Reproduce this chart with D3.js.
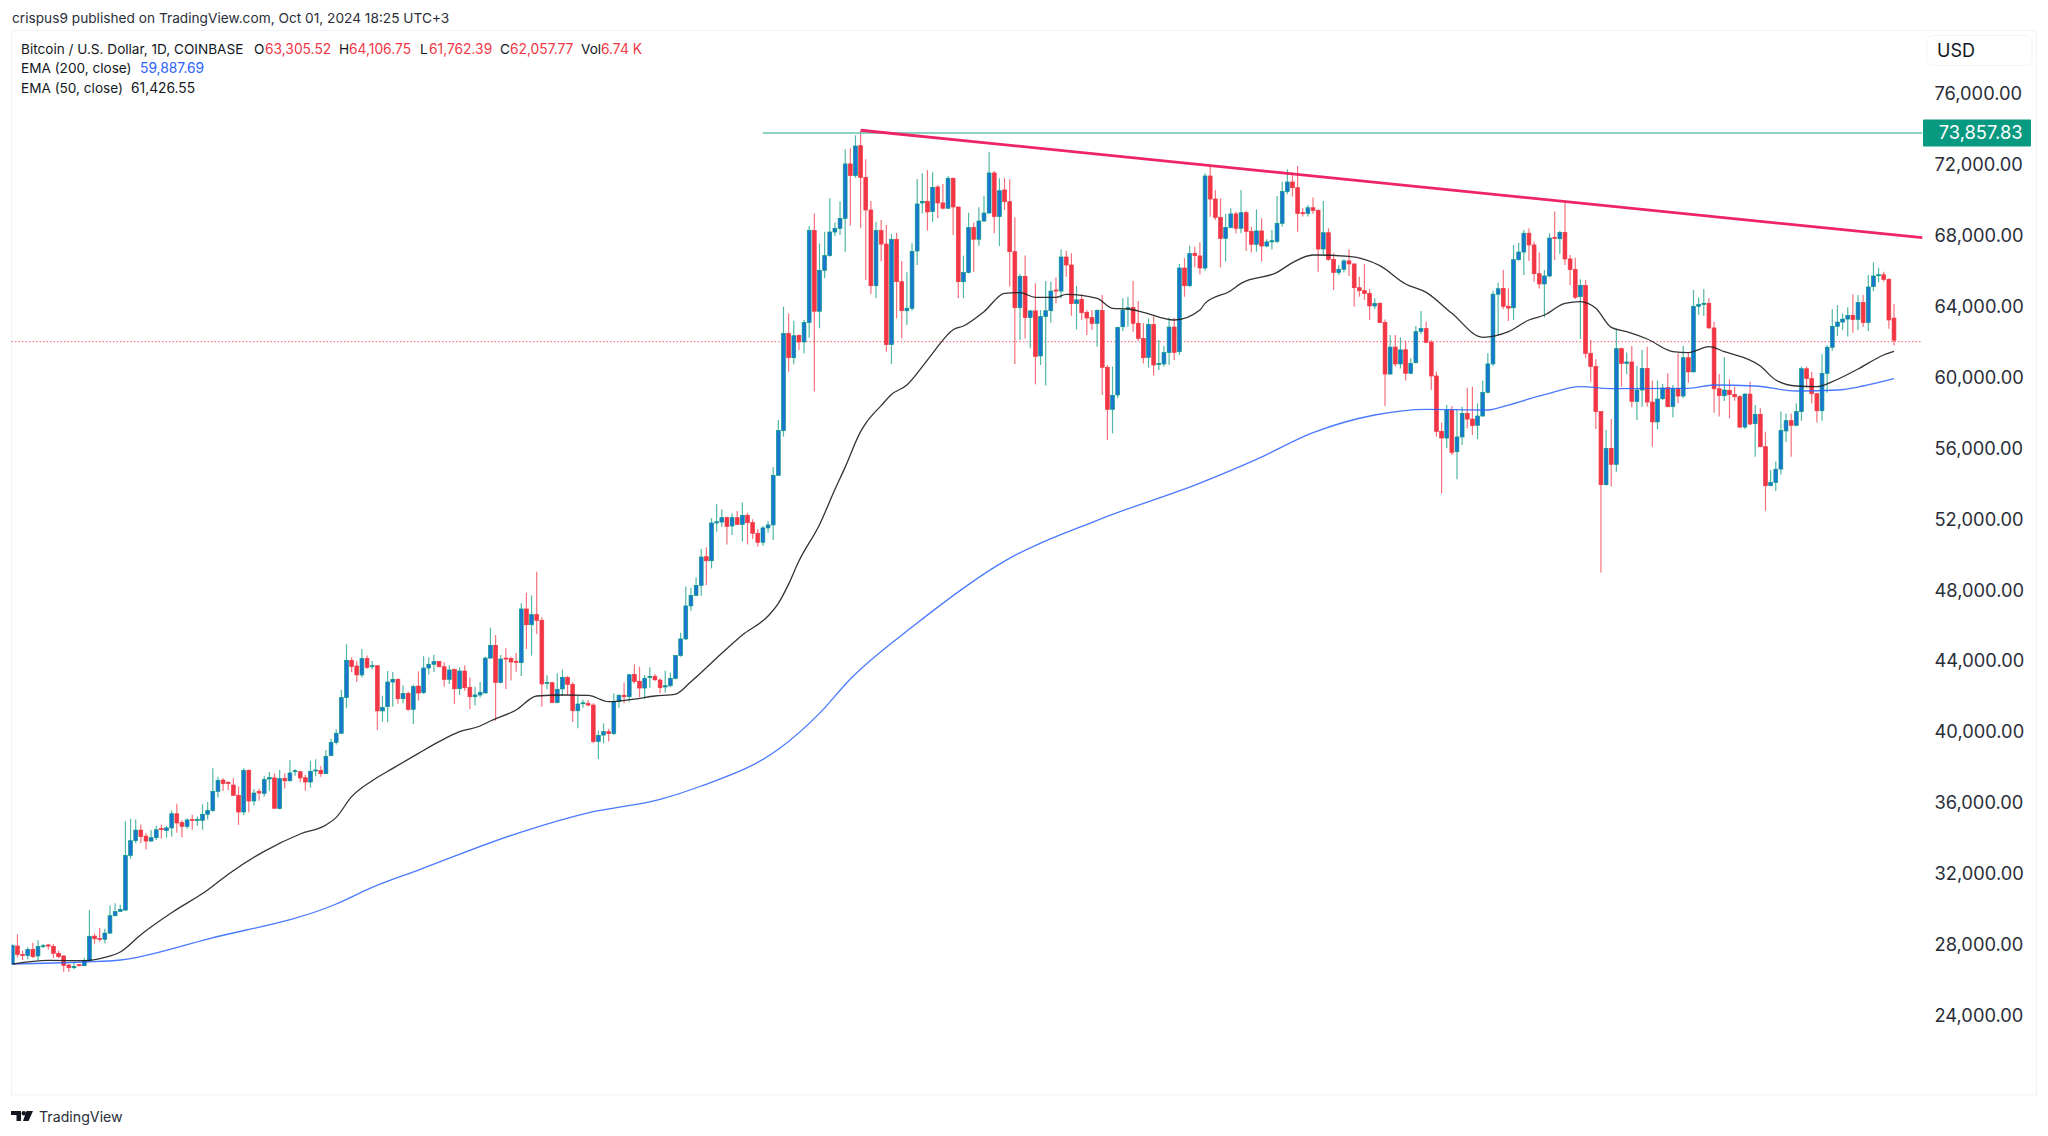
<!DOCTYPE html>
<html>
<head>
<meta charset="utf-8">
<title>Bitcoin / U.S. Dollar</title>
<script src="https://cdn.jsdelivr.net/npm/d3@7"></script>
<style>
  html, body { margin: 0; padding: 0; background: #fff; }
  svg { display: block; }
  text { font-family: Inter, "Noto Sans", sans-serif; }
</style>
</head>
<body>
<div id="chart"></div>
<script>
// daily candles, one value per day starting on Oct 1 2023
const opens = [
26880,27890,27420,27350,27700,27330,27870,27950,27870,27480,
27330,26820,26670,26840,26780,27060,28450,28320,28270,28620,
29600,29850,29920,33000,33830,34430,34090,33810,34000,34510,
34410,34550,35350,34850,34640,35030,34980,34980,35320,35540,
36610,37250,37120,36970,36390,35450,37800,36070,36600,36500,
37310,37370,35640,37350,37210,37720,37720,37380,37140,37760,
37800,37610,38630,39380,39890,41900,44000,43680,43180,44100,
43650,43700,41150,41390,42780,42930,41840,42140,41240,42550,
42180,43570,43780,43930,43640,42930,43480,42400,43400,42480,
41950,42050,42160,44130,44850,42760,44130,44100,43950,43870,
46900,46010,46580,46260,42700,42740,41620,42390,43040,42650,
41160,41560,41560,41480,39430,39790,39980,39870,41690,42030,
41950,43210,42820,42440,43030,43100,42890,42500,42570,42990,
44270,45210,47070,47670,48230,49850,49620,51750,51800,52050,
51580,52050,51670,52180,51770,51170,50660,51470,51640,54440,
56960,62430,61070,62330,61960,63050,68250,63690,66000,66830,
68160,68370,68930,72000,71340,73030,71240,69400,65130,68240,
67480,61810,67750,65360,63720,63860,67090,69800,69890,69310,
70700,69800,69500,71190,69570,65360,65870,68410,67750,68780,
69230,71490,69030,70530,69870,67050,63890,65660,63330,63710,
61170,63390,63720,64890,64830,66750,66300,64120,64360,63630,
63330,63010,63740,60530,58160,58970,62820,63800,63910,63010,
62160,61090,62950,60680,60720,61360,62800,61410,66130,65130,
66960,66810,66130,71320,70020,68990,67800,68420,69180,68370,
69250,68200,67470,68220,67370,67600,67630,68650,70440,70980,
70660,69250,69210,69530,69380,67200,68120,66620,65870,66060,
66530,66360,65020,64850,64700,63990,64140,63050,60150,61670,
60720,61520,60190,60790,62560,62710,61940,60040,56920,56540,
58120,55770,56600,57930,57610,57260,57780,59120,60720,64650,
64980,63970,63890,66600,67030,68090,67430,65810,65230,65680,
67860,67780,68140,66640,66040,64510,65150,61320,60570,58030,
53910,55960,55060,61580,60750,60830,58610,59250,60470,58570,
57450,58760,59380,58310,59340,58910,61070,60270,63970,64080,
64140,62750,59320,58930,59230,59000,58870,57160,59020,57350,
57880,56050,53850,54040,54790,56940,57520,57260,58030,60450,
59890,59040,58080,60190,61660,62840,63080,63250,63460,63230,
64180,63050,65080,65720,65750,65490,63305.52];

const highs = [
27990,28550,27630,27820,28080,28210,28000,28020,28000,27630,
27380,26860,27010,26880,27230,29920,28590,28910,28870,30170,
30300,30220,34920,35070,35030,34750,34250,34430,34680,34750,
34660,35540,35920,35000,35090,35300,35190,35880,36010,37910,
37440,37350,37180,37350,36880,37910,37850,36750,36760,37480,
37700,37630,37820,37630,38380,37870,37760,37540,38340,38420,
38040,38950,39580,40110,42330,44910,44170,43970,44640,44280,
43970,43720,42010,43400,43340,42990,42590,42240,42630,43380,
44230,44170,44320,43960,43890,43720,43550,43610,43720,43030,
42520,42780,44210,45850,45430,44300,44680,44210,44420,47220,
47820,47670,49000,46430,43160,42800,43270,43480,43120,42760,
41990,41780,41770,41580,40040,40450,40150,42140,42100,42740,
43230,43780,43640,43170,43610,43230,42990,43420,43310,44300,
45560,48160,48100,48670,50280,50380,52030,52800,52520,52110,
52290,52430,52900,52330,51960,51410,51580,51860,54910,57560,
63950,63570,63160,62400,63200,68500,69210,67520,68180,70060,
68690,69890,72820,72880,73610,73858,72260,69910,68740,68840,
68560,68050,68120,66530,65890,67520,71150,71470,71660,71530,
70810,70870,71320,71230,69590,66830,69250,68690,69550,70190,
72670,71600,71190,71190,71130,68990,65790,66830,63760,65270,
63760,65400,65360,65590,67180,67110,66960,65130,64650,63760,
63760,63800,64610,60660,60570,62820,64420,64510,65400,64270,
63010,63290,63390,62070,61730,63330,63330,66360,66680,67390,
67330,67580,71470,71850,70530,70060,69180,69500,69310,70530,
69360,68460,69440,68930,67750,68270,70190,71000,71700,71530,
71880,69500,69680,70100,69440,69910,68370,66960,66300,66620,
67180,66390,65640,66360,64950,64420,64180,63230,62350,62350,
62220,62030,61040,62860,63710,63100,62070,60280,57410,58400,
58350,58120,58310,59380,59440,58500,59780,61320,64850,65300,
66020,64980,67430,67560,68270,68370,67620,67010,66020,68090,
69310,68220,69830,66860,66710,65490,65450,62070,60980,58050,
56990,57610,62630,61640,61370,61730,60600,61510,61690,59780,
59780,59590,60190,59530,61320,61750,61370,64890,64460,64950,
64420,63100,60150,61090,59850,59440,58970,59060,59720,58400,
58220,56900,54740,55210,58030,57930,57930,58500,60570,60570,
60280,59060,61260,61790,63800,64040,63570,63910,64650,64610,
64610,65740,66450,66150,65920,65550,64106.75];

const lows = [
26860,27250,27100,27140,27210,27100,27780,27700,27210,27210,
26440,26440,26580,26730,26760,27010,28020,28130,28040,28570,
29550,29810,29870,32820,33680,33680,33340,33780,33870,33960,
34000,34060,34280,34020,34510,34450,34680,34450,35030,35470,
36260,36630,36690,36350,34720,35280,35430,35810,36090,36310,
36650,35640,35600,36780,37180,37500,37140,36650,36820,37460,
37440,37590,38590,39260,39850,41300,43330,42780,43030,43510,
43490,40070,40540,40510,41390,41560,41580,41160,40410,41730,
42100,43210,43340,43610,42520,42670,41540,42050,42290,41260,
41450,41900,42140,44100,40600,42700,42390,42860,43360,43120,
44640,44270,45490,41390,42370,41580,41580,41990,42050,40520,
40170,41330,41410,39320,38440,39320,39420,39790,41330,41580,
41670,42700,41920,41840,42460,42820,42140,42180,42500,42930,
44210,45150,46800,47630,47650,48250,49190,51260,51540,50540,
51070,51640,50700,50540,50850,50410,50470,51200,50790,54400,
56620,60280,60700,61510,61320,62200,59160,62730,65550,66770,
67930,67990,67050,68520,71220,68370,65450,64660,64420,66490,
61410,60720,63290,62160,62920,63720,66300,69210,68240,68740,
68930,69440,69460,67990,64420,64420,65830,65920,67390,68740,
69210,68090,67370,69400,65080,60720,62070,62160,61600,59570,
60660,59510,63050,64140,64420,65640,63440,62670,63200,62350,
62630,61690,58970,56430,56810,58780,62580,62820,62540,62010,
60750,60510,60060,60380,60570,60660,60940,61220,64510,65060,
66170,65770,65980,69030,68840,66170,66490,68370,68090,68090,
67090,67000,67050,66490,67300,67180,67520,68460,70290,70150,
68180,69030,69030,69180,65920,66860,66540,64890,65740,65870,
65680,63950,64510,64330,63200,63820,63010,58350,60100,60570,
60470,59780,60150,60750,62390,61880,59250,56620,53420,55960,
55580,54210,56150,57090,56710,56470,57750,59060,60600,62350,
63800,63140,63200,66540,65740,66530,65360,64980,63350,65600,
66580,66920,66300,65170,64380,62130,61040,59720,57050,48960,
53870,53800,54640,59440,60150,58270,57560,58310,58310,56050,
57030,58690,58270,57710,58500,58780,59660,60230,63500,63420,
62710,57970,57750,58630,57650,58650,57090,57050,57280,55490,
56020,52440,53830,53550,54490,56320,55490,57200,57520,59400,
58500,57410,57520,59100,61470,62300,62630,62260,62480,62630,
62820,62580,64830,65320,65360,62710,61762.39];

const closes = [
27910,27420,27350,27700,27290,27870,27910,27890,27480,27290,
26800,26670,26740,26780,27060,28440,28300,28270,28620,29600,
29830,29960,33000,33830,34430,34060,33810,34000,34450,34450,
34550,35350,34830,34640,35000,34980,35030,35320,35540,36610,
37230,37050,37050,36390,35450,37800,36070,36520,36520,37290,
37390,35660,37330,37210,37650,37780,37370,37140,37740,37820,
37610,38590,39380,39890,41900,44000,43660,43180,44100,43610,
43700,41150,41350,42780,42930,41840,42140,41240,42520,42160,
43570,43780,43930,43640,42930,43460,42400,43400,42460,41950,
42050,42200,44130,44850,42760,44080,44080,43910,43890,46900,
46010,46580,46260,42670,42760,41620,42370,43040,42650,41160,
41540,41610,41480,39420,39770,39980,39870,41690,42030,41950,
43190,42820,42440,42990,43100,42910,42460,42570,42990,44270,
45210,47070,47670,48230,49830,49620,51750,51820,52050,51560,
52050,51670,52180,51770,51170,50660,51470,51640,54440,56960,
62430,61070,62310,61960,63050,68250,63690,66000,66830,68160,
68370,68930,72000,71340,73010,71240,69400,65130,68240,67480,
61810,67750,65360,63720,63860,67070,69740,69890,69290,70680,
69800,69500,71190,69570,65360,65870,68410,67750,68780,69230,
71490,69030,70490,69870,67050,63890,65660,63330,63710,61150,
63390,63720,64830,64830,66750,66300,64120,64330,63610,63310,
63010,63740,60530,58160,58950,62780,63760,63890,63010,62160,
61070,62950,60660,60750,61360,62800,61370,66130,65130,66940,
66830,66130,71320,70020,68990,67800,68420,69180,68370,69250,
68200,67470,68220,67370,67600,67670,68650,70440,70980,70660,
69210,69190,69530,69380,67200,68120,66620,65870,66060,66530,
66360,65020,64850,64700,63990,64140,63050,60150,61670,60720,
61510,60190,60750,62540,62710,61940,60040,56920,56540,58120,
55730,56600,57930,57610,57240,57780,59120,60720,64650,64960,
63970,63870,66600,67030,68090,67430,65810,65230,65680,67820,
67800,68140,66640,66040,64480,65150,61320,60570,58030,53910,
55960,55060,61580,60750,60830,58610,59250,60470,58570,57450,
58740,59360,58310,59340,58910,61070,60270,63970,64080,64140,
62750,59320,58930,59250,58990,58870,57160,59020,57330,57880,
56050,53850,54040,54780,56960,57520,57260,58030,60450,59890,
59040,58080,60190,61660,62840,63080,63250,63460,63230,64180,
63050,65060,65680,65750,65490,63200,62057.77];

// moving averages at the day numbers beside them
const ema50Days = [0,7,14,18,21,25,31,38,42,49,56,61,63,66,70,74,79,83,87,91,93,98,102,107,112,116,121,125,129,132,138,142,147,149,151,153,157,160,162,165,166,169,171,174,177,179,183,185,189,193,196,199,203,205,211,214,217,220,226,231,232,237,239,246,249,253,260,266,271,275,280,286,291,295,298,302,305,308,311,314,318,323,326,330,333,340,343,347,351,354,359,364,366];
const ema50Values = [26875,27082,27063,27251,27552,28530,29771,31049,31933,33230,34208,34715,35147,36313,37215,37911,38757,39415,39979,40299,40581,41201,41991,42047,42028,41671,41821,41991,42103,42799,44397,45431,46503,47217,48300,49600,51650,53640,54900,56900,57370,58370,59000,59531,60565,61317,62650,62858,63667,64701,64739,64475,64475,64645,64419,63855,63817,63629,63197,63761,64137,64851,65265,65885,66431,66863,66788,66261,65227,64757,63573,62219,62539,63197,63479,64137,64231,63855,62783,62539,62125,61411,61355,61693,61411,60603,59813,59475,59437,59719,60433,61223,61426.55];
const ema200Days = [0,14,21,38,63,70,79,99,112,126,134,149,157,163,175,193,211,231,242,253,265,275,287,291,298,305,311,326,331,339,347,355,360,366];
const ema200Values = [26875,26988,27101,28286,30259,31199,32177,34320,35400,36163,36915,38983,41013,42950,45880,49600,51900,54000,55338,56842,57839,58158,58121,58403,58985,59437,59324,59343,59531,59475,59192,59249,59475,59887.69];

// drawn lines: the resistance line and the all time high line
const trendDays = [165, 371.5];
const trendPrices = [73900, 67840];
const highLineDays = [146, 371.5];
const highLinePrice = 73857.83;
const lastPrice = 62057.77;
// where those two horizontal lines sit when read against the candles
const highLineLevel = 73745;
const lastLineLevel = 61975;

// axis labels
const priceTicks = [24000,28000,32000,36000,40000,44000,48000,52000,56000,60000,64000,68000,72000,76000];
const monthDays = [0,31,61,92,123,152,183,213,244,274,305,336,366];
const monthLabels = ["Oct","Nov","Dec","2024","Feb","Mar","Apr","May","Jun","Jul","Aug","Sep","Oct"];

const upColor = "#089981";
const upFill = "#1976d2";
const downColor = "#f23645";

const svg = d3.select("#chart").append("svg")
    .attr("width", 2048)
    .attr("height", 1136);

// day number and price scales
const x = d3.scaleLinear().domain([0, 366]).range([12.3, 1894]);
const y = d3.scaleLinear().domain([24000, 76000]).range([1015, 93]);

// the frame around chart and axes
svg.append("rect")
    .attr("x", 11.5).attr("y", 30.5)
    .attr("width", 2025).attr("height", 1064.5)
    .attr("fill", "none")
    .attr("stroke", "#f0f3fa");

svg.append("clipPath").attr("id", "frame")
    .append("rect")
    .attr("x", 11.5).attr("y", 30.5)
    .attr("width", 2025).attr("height", 1064.5);

// price axis on the right
const yAxis = svg.append("g")
    .attr("transform", "translate(1922,0.7)")
    .call(d3.axisRight(y).tickValues(priceTicks).tickFormat(d3.format(",.2f")).tickSize(0).tickPadding(12.5));
yAxis.select(".domain").remove();
yAxis.selectAll("text")
    .style("font-size", "18.3px")
    .style("fill", "#2a2e39");

// month axis at the bottom, the first label gets cut by the frame
const xAxis = svg.append("g")
    .attr("transform", "translate(0,1062)")
    .attr("clip-path", "url(#frame)")
    .call(d3.axisBottom(x).tickValues(monthDays).tickFormat((d, i) => monthLabels[i]).tickSize(0).tickPadding(3));
xAxis.select(".domain").remove();
xAxis.selectAll("text")
    .style("font-size", "17.5px")
    .style("fill", "#2a2e39")
    .style("font-weight", (d, i) => monthLabels[i] === "2024" ? 700 : 400);

// dotted line at the last close
svg.append("line")
    .attr("x1", 11.5).attr("x2", 1922)
    .attr("y1", y(lastLineLevel)).attr("y2", y(lastLineLevel))
    .attr("stroke", downColor)
    .attr("stroke-width", 1)
    .attr("stroke-dasharray", "1.5 2")
    .attr("opacity", 0.8);

// one entry per day
const days = d3.range(opens.length);
const candles = svg.append("g").attr("clip-path", "url(#frame)");

candles.selectAll("line.wick").data(days).join("line")
    .attr("class", "wick")
    .attr("x1", d => x(d)).attr("x2", d => x(d))
    .attr("y1", d => y(highs[d])).attr("y2", d => y(lows[d]))
    .attr("stroke", d => closes[d] >= opens[d] ? upColor : downColor)
    .attr("stroke-width", 1.2)
    .attr("opacity", 0.7);

candles.selectAll("rect.body").data(days).join("rect")
    .attr("class", "body")
    .attr("x", d => x(d) - 1.9)
    .attr("width", 3.8)
    .attr("y", d => y(Math.max(opens[d], closes[d])))
    .attr("height", d => Math.max(1, Math.abs(y(opens[d]) - y(closes[d]))))
    .attr("fill", d => closes[d] >= opens[d] ? upFill : downColor)
    .attr("stroke", d => closes[d] >= opens[d] ? upColor : downColor)
    .attr("stroke-width", 0.7);

// the two moving averages
const emaLine = d3.line()
    .x(d => x(d[0]))
    .y(d => y(d[1]))
    .curve(d3.curveMonotoneX);

svg.append("path")
    .attr("d", emaLine(d3.zip(ema200Days, ema200Values)))
    .attr("fill", "none")
    .attr("stroke", "#2962ff")
    .attr("stroke-width", 1.3)
    .attr("opacity", 0.85);

svg.append("path")
    .attr("d", emaLine(d3.zip(ema50Days, ema50Values)))
    .attr("fill", "none")
    .attr("stroke", "#1e1e1e")
    .attr("stroke-width", 1.3)
    .attr("opacity", 0.9);

// teal line at the all time high
svg.append("line")
    .attr("x1", x(highLineDays[0])).attr("x2", x(highLineDays[1]))
    .attr("y1", y(highLineLevel)).attr("y2", y(highLineLevel))
    .attr("stroke", "#66c2b0")
    .attr("stroke-width", 1.5);

// pink resistance line
svg.append("line")
    .attr("x1", x(trendDays[0])).attr("x2", x(trendDays[1]))
    .attr("y1", y(trendPrices[0])).attr("y2", y(trendPrices[1]))
    .attr("stroke", "#ee2465")
    .attr("stroke-width", 2.8);

// price label on the axis
svg.append("rect")
    .attr("x", 1923).attr("y", y(highLineLevel) - 13.5)
    .attr("width", 108).attr("height", 27)
    .attr("rx", 1)
    .attr("fill", "#089981");
svg.append("text")
    .attr("x", 2022.5).attr("y", y(highLineLevel))
    .attr("dy", "0.35em")
    .attr("text-anchor", "end")
    .attr("fill", "#fff")
    .style("font-size", "18.3px")
    .text(d3.format(",.2f")(highLinePrice));

// currency box
svg.append("rect")
    .attr("x", 1927).attr("y", 35.5)
    .attr("width", 105).attr("height", 30)
    .attr("rx", 6)
    .attr("fill", "#fff")
    .attr("stroke", "#f0f3fa");
svg.append("text")
    .attr("x", 1937).attr("y", 50.5)
    .attr("dy", "0.35em")
    .attr("fill", "#131722")
    .style("font-size", "18px")
    .text("USD");

// small helper for header text
function label(xPos, yPos, str, color, size) {
    svg.append("text")
        .attr("x", xPos).attr("y", yPos)
        .attr("dy", "0.35em")
        .attr("fill", color)
        .style("font-size", size + "px")
        .text(str);
}

label(12, 18.5, "crispus9 published on TradingView.com, Oct 01, 2024 18:25 UTC+3", "#2a2e39", 13.7);

const dark = "#131722";
label(21, 49.5, "Bitcoin / U.S. Dollar, 1D, COINBASE", dark, 13.6);
label(254, 49.5, "O", dark, 13.6);
label(265, 49.5, "63,305.52", downColor, 13.8);
label(339, 49.5, "H", dark, 13.6);
label(349, 49.5, "64,106.75", downColor, 13.8);
label(420, 49.5, "L", dark, 13.6);
label(429, 49.5, "61,762.39", downColor, 13.8);
label(500, 49.5, "C", dark, 13.6);
label(510, 49.5, "62,057.77", downColor, 13.8);
label(581, 49.5, "Vol", dark, 13.6);
label(601, 49.5, "6.74 K", downColor, 13.8);
label(21, 68.5, "EMA (200, close)", dark, 13.6);
label(140, 68.5, "59,887.69", "#2962ff", 13.8);
label(21, 88, "EMA (50, close)", dark, 13.6);
label(131, 88, "61,426.55", dark, 13.8);

// TradingView mark and name at the bottom
svg.append("path")
    .attr("d", "M11 1111h10v10h-4.5v-6H11z M26.5 1111h6.5l-4.5 10h-5.5z")
    .attr("fill", "#131722");
svg.append("circle")
    .attr("cx", 23.8).attr("cy", 1113.2).attr("r", 2.2)
    .attr("fill", "#131722");
label(39, 1117, "TradingView", "#2a2e39", 14.2);
</script>
</body>
</html>
